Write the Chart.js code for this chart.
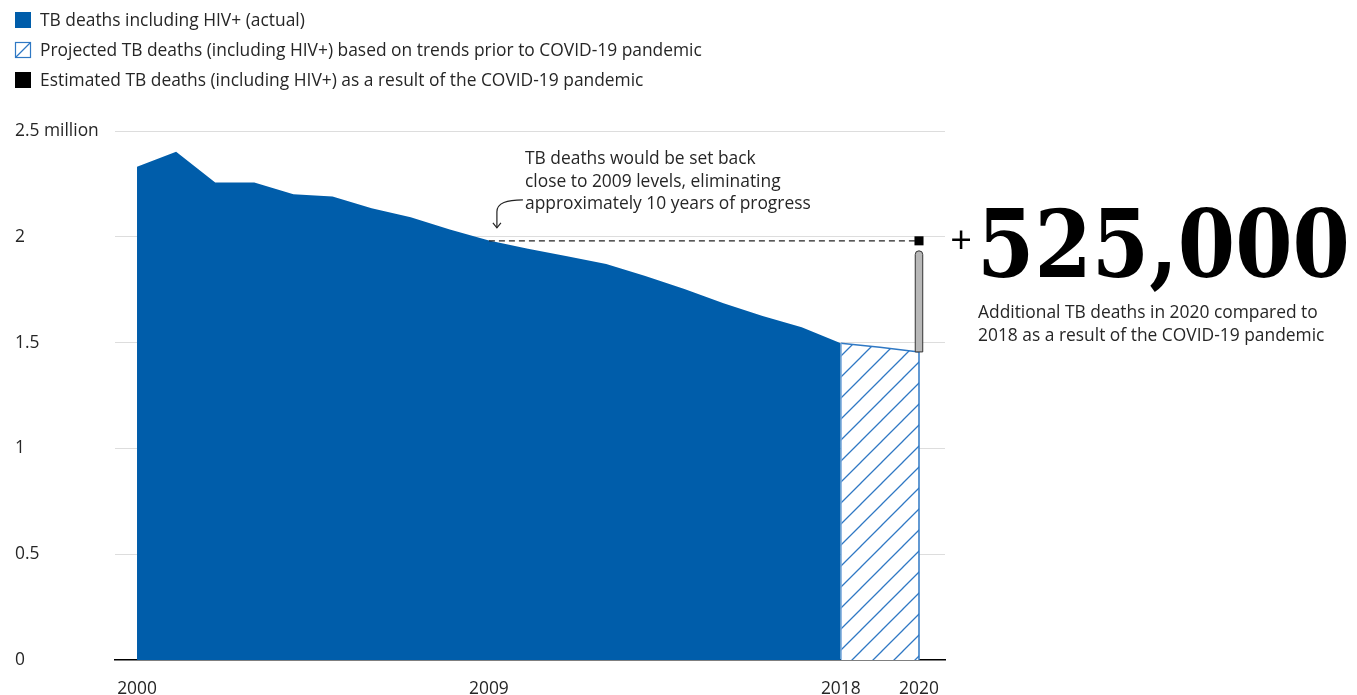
<!DOCTYPE html>
<html>
<head>
<meta charset="utf-8">
<script src="https://cdn.jsdelivr.net/npm/chart.js@4.4.0/dist/chart.umd.min.js"></script>
<style>
html,body{margin:0;padding:0;background:#fff;}
#wrap{width:1357px;height:695px;position:relative;}
</style>
</head>
<body>
<div id="wrap"><canvas id="c" width="1357" height="695"></canvas></div>
<script>
// ---- data (million TB deaths) ----
const actualYears = [2000,2001,2002,2003,2004,2005,2006,2007,2008,2009,2010,2011,2012,2013,2014,2015,2016,2017,2018];
const actualDeaths = [2.331,2.402,2.257,2.257,2.201,2.190,2.135,2.092,2.035,1.983,1.943,1.908,1.871,1.815,1.753,1.686,1.626,1.572,1.497];
const projectedYears = [2018,2019,2020];
const projectedDeaths = [1.497,1.478,1.456];
const covidExtraDeaths = 0.525; // million, additional deaths in 2020
const comparisonYear = 2009;
const xTickYears = [2000,2009,2018,2020];
const yTickValues = [0,0.5,1,1.5,2,2.5];
const legendLabels = [
  'TB deaths including HIV+ (actual)',
  'Projected TB deaths (including HIV+) based on trends prior to COVID-19 pandemic',
  'Estimated TB deaths (including HIV+) as a result of the COVID-19 pandemic'
];
const annotationLines = ['TB deaths would be set back','close to 2009 levels, eliminating','approximately 10 years of progress'];
const bigNumber = '525,000';
const subtitleLines = ['Additional TB deaths in 2020 compared to','2018 as a result of the COVID-19 pandemic'];

// ---- styles ----
const BLUE = '#005DAA';
const HATCH = '#2f78c4';
const FONT = 'Open Sans';
const TEXT = '#262626';

function fitSize(text, targetW, family, weight) {
  const c = document.createElement('canvas').getContext('2d');
  c.font = (weight || 'normal') + ' 100px "' + family + '"';
  return 100 * targetW / c.measureText(text).width;
}
const FS = Math.round(fitSize(legendLabels[1], 663, FONT) * 10) / 10;

// hatch pattern
const pc = document.createElement('canvas');
pc.width = 21; pc.height = 21;
const p = pc.getContext('2d');
p.fillStyle = '#fff'; p.fillRect(0,0,21,21);
p.strokeStyle = HATCH; p.lineWidth = 1.3;
p.beginPath();
p.moveTo(-2,23); p.lineTo(23,-2);
p.moveTo(-3,3); p.lineTo(3,-3);
p.moveTo(18,24); p.lineTo(24,18);
p.stroke();
const hatchPattern = p.createPattern(pc,'repeat');

const dashValue = projectedDeaths[projectedDeaths.length-1] + covidExtraDeaths;

const overlay = {
  id: 'overlay',
  afterDatasetsDraw(chart) {
    const {ctx, scales:{x, y}} = chart;
    const x20 = x.getPixelForValue(projectedYears[2]);
    const x18 = x.getPixelForValue(projectedYears[0]);
    ctx.save();
    // hatch area edges
    ctx.strokeStyle = HATCH; ctx.lineWidth = 1.5;
    ctx.beginPath();
    ctx.moveTo(x20, y.getPixelForValue(projectedDeaths[2]));
    ctx.lineTo(x20, y.getPixelForValue(0));
    ctx.stroke();
    ctx.strokeStyle = '#7aa8dc'; ctx.lineWidth = 1;
    ctx.beginPath();
    ctx.moveTo(x18 + 0.5, y.getPixelForValue(projectedDeaths[0]));
    ctx.lineTo(x18 + 0.5, y.getPixelForValue(0));
    ctx.stroke();
    // grey pill
    const top = y.getPixelForValue(dashValue) + 10;
    const bot = y.getPixelForValue(projectedDeaths[2]);
    const w = 7.5, r = 3.75;
    ctx.beginPath();
    ctx.moveTo(x20 - w/2, bot);
    ctx.lineTo(x20 - w/2, top + r);
    ctx.arc(x20, top + r, r, Math.PI, 0);
    ctx.lineTo(x20 + w/2, bot);
    ctx.closePath();
    ctx.fillStyle = '#b8b8b8'; ctx.fill();
    ctx.strokeStyle = '#333'; ctx.lineWidth = 1; ctx.stroke();
    ctx.restore();
  },
  afterDraw(chart) {
    const {ctx, scales:{x, y}} = chart;
    ctx.save();
    // legend
    ctx.textBaseline = 'middle'; ctx.textAlign = 'left';
    ctx.font = FS + 'px "' + FONT + '"';
    ctx.fillStyle = TEXT;
    const ly = [21.5, 51.5, 81.5];
    legendLabels.forEach((t,i) => ctx.fillText(t, 40, ly[i]));
    ctx.fillStyle = BLUE; ctx.fillRect(15, 12, 16, 16);
    ctx.fillStyle = '#fff'; ctx.fillRect(15.5, 42.5, 15, 15);
    ctx.strokeStyle = HATCH; ctx.lineWidth = 1.2;
    ctx.strokeRect(15.5, 42.5, 15, 15);
    ctx.beginPath(); ctx.moveTo(16, 57); ctx.lineTo(30, 43); ctx.stroke();
    ctx.fillStyle = '#000'; ctx.fillRect(15, 72, 16, 16);

    // annotation
    const x9 = x.getPixelForValue(comparisonYear) + 8;
    const yD = y.getPixelForValue(dashValue);
    ctx.fillStyle = TEXT;
    annotationLines.forEach((t,i) => ctx.fillText(t, 525, 159.5 + i*22.3));
    ctx.strokeStyle = '#222'; ctx.lineWidth = 1.2;
    ctx.beginPath();
    ctx.moveTo(x9 + 26, yD - 41);
    ctx.bezierCurveTo(x9 + 10, yD - 41, x9, yD - 38, x9, yD - 29);
    ctx.lineTo(x9, yD - 13);
    ctx.stroke();
    ctx.beginPath();
    ctx.moveTo(x9 - 4, yD - 18); ctx.lineTo(x9, yD - 13); ctx.lineTo(x9 + 4, yD - 18);
    ctx.stroke();

    // big number
    ctx.fillStyle = '#000';
    ctx.font = '38px "' + FONT + '"';
    ctx.textAlign = 'center';
    ctx.fillText('+', 961, 242);
    ctx.textAlign = 'left';
    ctx.textBaseline = 'alphabetic';
    ctx.font = 'bold 93px "DejaVu Serif"';
    const bw = ctx.measureText(bigNumber).width;
    ctx.translate(977, 277);
    ctx.scale(373 / bw, 1);
    ctx.fillText(bigNumber, 0, 0);
    ctx.setTransform(1,0,0,1,0,0);

    ctx.textBaseline = 'middle';
    ctx.font = FS + 'px "' + FONT + '"';
    ctx.fillStyle = TEXT;
    subtitleLines.forEach((t,i) => ctx.fillText(t, 978, 313.5 + i*23));
    ctx.restore();
  }
};

new Chart(document.getElementById('c'), {
  type: 'line',
  data: {
    datasets: [
      {
        label: 'dash',
        data: [{x: comparisonYear, y: dashValue}, {x: projectedYears[2], y: dashValue}],
        borderColor: '#222', borderWidth: 1.2, borderDash: [6,4],
        pointRadius: [0, 6.4], pointStyle: 'rect', pointBackgroundColor: '#000', pointBorderWidth: 0,
        fill: false
      },
      {
        label: legendLabels[1],
        data: projectedYears.map((yr,i) => ({x: yr, y: projectedDeaths[i]})),
        borderColor: HATCH, borderWidth: 1.5,
        backgroundColor: hatchPattern,
        fill: 'origin', pointRadius: 0, tension: 0
      },
      {
        label: legendLabels[0],
        data: actualYears.map((yr,i) => ({x: yr, y: actualDeaths[i]})),
        borderWidth: 0, borderColor: BLUE,
        backgroundColor: BLUE,
        fill: 'origin', pointRadius: 0, tension: 0
      }
    ]
  },
  options: {
    responsive: false,
    devicePixelRatio: 1,
    animation: false,
    layout: {padding: {left: 15, top: 131, right: 412, bottom: 0}},
    plugins: {legend: {display: false}, tooltip: {enabled: false}},
    scales: {
      x: {
        type: 'linear', min: 1999.437, max: 2020.665,
        z: 1,
        grid: {display: false},
        border: {display: true, color: '#000', width: 1.5},
        afterBuildTicks: s => { s.ticks = xTickYears.map(v => ({value: v})); },
        afterFit: s => { s.height = 35; },
        ticks: {
          autoSkip: false, maxRotation: 0, padding: 11,
          color: TEXT, font: {family: FONT, size: FS},
          callback: v => String(v)
        }
      },
      y: {
        min: 0, max: 2.5,
        grid: {color: ctx => ctx.tick && ctx.tick.value === 0 ? 'rgba(0,0,0,0)' : '#dddddd', drawTicks: false, lineWidth: 1},
        border: {display: false},
        afterBuildTicks: s => { s.ticks = yTickValues.map(v => ({value: v})); },
        afterFit: s => { s.width = 100; },
        ticks: {
          crossAlign: 'far', padding: 0,
          color: TEXT, font: {family: FONT, size: FS},
          callback: v => v === 2.5 ? '2.5 million' : String(v)
        }
      }
    }
  },
  plugins: [overlay]
});
</script>
</body>
</html>
